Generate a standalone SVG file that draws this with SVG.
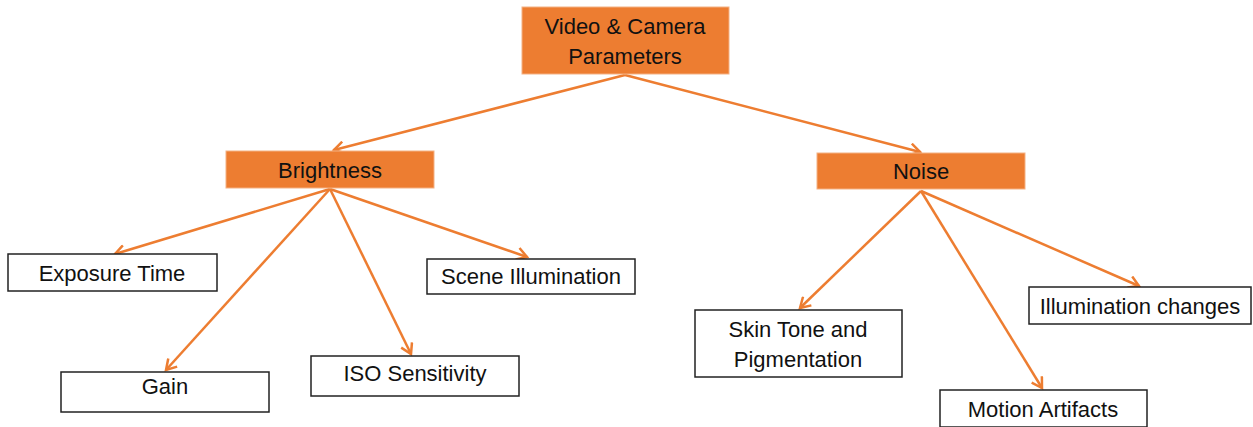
<svg xmlns="http://www.w3.org/2000/svg" width="1253" height="427" viewBox="0 0 1253 427">
<defs>
<marker id="ah" markerWidth="14" markerHeight="14" refX="11" refY="7" orient="auto" markerUnits="userSpaceOnUse">
<path d="M1,1 L11,7 L1,13" fill="none" stroke="#ED7D31" stroke-width="2.5"/>
</marker>
<style>
.o{fill:#ED7D31;stroke:#F4B183;stroke-width:1}
.w{fill:#fff;stroke:#222;stroke-width:1.5}
text{font-family:"Liberation Sans",Arial,sans-serif;font-size:22px;fill:#111;text-anchor:middle}
.c line{stroke:#ED7D31;stroke-width:2.5;marker-end:url(#ah)}
</style>
</defs>
<rect width="1253" height="427" fill="#fff"/>
<g class="c" id="connectors">
<line x1="625" y1="75" x2="334" y2="150"/>
<line x1="625" y1="75" x2="920" y2="152"/>
<line x1="330" y1="189" x2="115" y2="254"/>
<line x1="330" y1="189" x2="166" y2="370"/>
<line x1="330" y1="189" x2="411" y2="354"/>
<line x1="330" y1="189" x2="527" y2="257"/>
<line x1="921" y1="191" x2="800" y2="308"/>
<line x1="921" y1="191" x2="1042" y2="388"/>
<line x1="921" y1="191" x2="1139" y2="286"/>
</g>
<g id="root"><rect class="o" x="522" y="7" width="207" height="67"/><text x="625" y="34">Video &amp; Camera</text><text x="625" y="64">Parameters</text></g>
<g id="brightness"><rect class="o" x="226" y="151" width="208" height="37"/><text x="330" y="178">Brightness</text></g>
<g id="noise"><rect class="o" x="817" y="153" width="208" height="36"/><text x="921" y="179">Noise</text></g>
<g id="exposure"><rect class="w" x="8" y="254" width="209" height="37"/><text x="112" y="281">Exposure Time</text></g>
<g id="scene"><rect class="w" x="427" y="259" width="208" height="35"/><text x="531" y="284">Scene Illumination</text></g>
<g id="gain"><rect class="w" x="61" y="372" width="208" height="40"/><text x="165" y="394">Gain</text></g>
<g id="iso"><rect class="w" x="311" y="356" width="208" height="40"/><text x="415" y="381">ISO Sensitivity</text></g>
<g id="skin"><rect class="w" x="695" y="310" width="207" height="67"/><text x="798" y="337">Skin Tone and</text><text x="798" y="367">Pigmentation</text></g>
<g id="illum"><rect class="w" x="1029" y="287" width="222" height="37"/><text x="1140" y="314">Illumination  changes</text></g>
<g id="motion"><rect class="w" x="940" y="390" width="207" height="37"/><text x="1043" y="417">Motion Artifacts</text></g>
</svg>
